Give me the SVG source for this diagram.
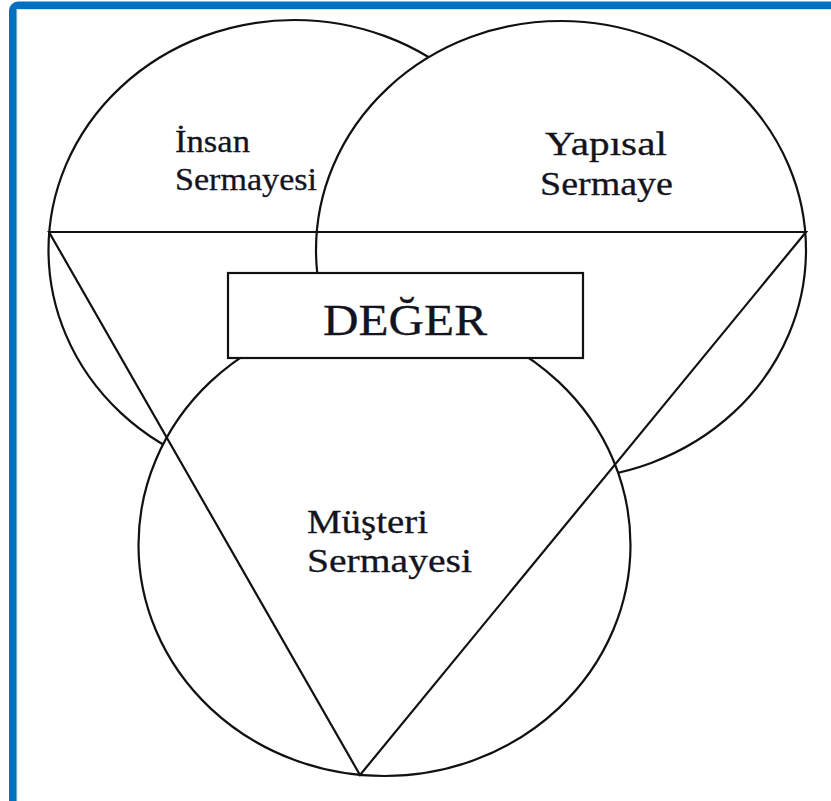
<svg xmlns="http://www.w3.org/2000/svg" width="831" height="801" viewBox="0 0 831 801">
  <style>
    .frame { fill: #ffffff; stroke: #0070c0; stroke-width: 8; }
    .ring { fill: #ffffff; stroke: #111111; stroke-width: 2.2; }
    .edge { fill: none; stroke: #111111; stroke-width: 2.2; stroke-linejoin: miter; }
    .box { fill: #ffffff; stroke: #111111; stroke-width: 2.2; }
    .lbl { font-family: "Liberation Serif", "Times New Roman", serif; font-size: 32px; fill: #14141e; stroke: #14141e; stroke-width: 0.3; }
    .wide { font-size: 34px; }
    .big { font-size: 44px; }
  </style>

  <!-- page background and blue frame -->
  <rect x="0" y="0" width="831" height="801" fill="#ffffff"/>
  <rect class="frame" x="13" y="5.5" width="900" height="900" rx="5"/>
  <rect x="17" y="9.5" width="900" height="900" fill="none" stroke="#cfe4f4" stroke-width="1"/>

  <!-- human capital -->
  <g id="insan-sermayesi">
    <ellipse class="ring" cx="294.5" cy="250" rx="246" ry="230"/>
    <text class="lbl" x="175" y="152" textLength="75" lengthAdjust="spacingAndGlyphs">İnsan</text>
    <text class="lbl" x="175" y="190" textLength="142" lengthAdjust="spacingAndGlyphs">Sermayesi</text>
  </g>

  <!-- structural capital -->
  <g id="yapisal-sermaye">
    <ellipse class="ring" cx="561" cy="250" rx="245" ry="229"/>
    <text class="lbl wide" x="545" y="155" textLength="122" lengthAdjust="spacingAndGlyphs">Yapısal</text>
    <text class="lbl wide" x="540" y="195" textLength="133" lengthAdjust="spacingAndGlyphs">Sermaye</text>
  </g>

  <!-- customer capital -->
  <g id="musteri-sermayesi">
    <ellipse class="ring" cx="384.5" cy="545" rx="246" ry="231"/>
    <text class="lbl wide" x="307" y="533" textLength="121" lengthAdjust="spacingAndGlyphs">Müşteri</text>
    <text class="lbl wide" x="307" y="572" textLength="165" lengthAdjust="spacingAndGlyphs">Sermayesi</text>
  </g>

  <!-- triangle linking the three capitals -->
  <g id="connectors">
    <polygon class="edge" points="49,232 806,232 360,775"/>
  </g>

  <!-- value at the centre -->
  <g id="deger">
    <rect class="box" x="228" y="273" width="355" height="85"/>
    <text class="lbl big" x="323" y="335" textLength="164" lengthAdjust="spacingAndGlyphs">DEĞER</text>
  </g>
</svg>
